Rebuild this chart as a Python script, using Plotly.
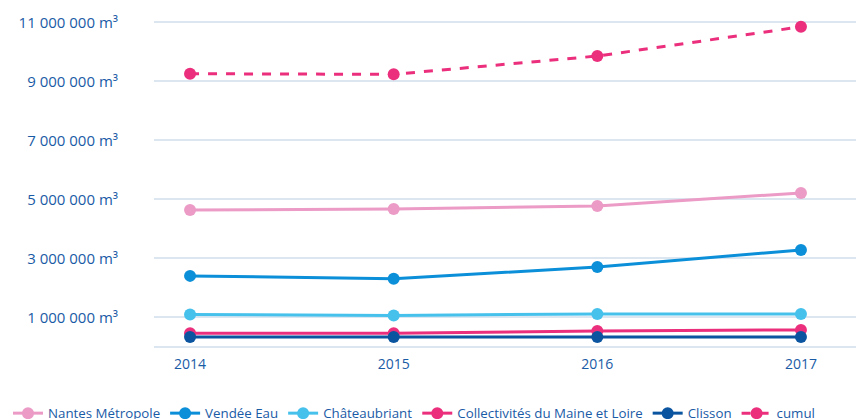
import plotly.graph_objects as go

years = [2014, 2015, 2016, 2017]
nantes = [4640000, 4680000, 4780000, 5220000]
vendee = [2410000, 2310000, 2710000, 3290000]
chateaubriant = [1100000, 1070000, 1120000, 1120000]
maine_loire = [470000, 470000, 540000, 580000]
clisson = [340000, 340000, 340000, 340000]
cumul = [9260000, 9240000, 9860000, 10850000]

tick_vals = [1000000, 3000000, 5000000, 7000000, 9000000, 11000000]
tick_text = ["1 000 000 m³", "3 000 000 m³", "5 000 000 m³", "7 000 000 m³", "9 000 000 m³", "11 000 000 m³"]

series = [
    ("Nantes Métropole", nantes, "#eb9bc6", "solid"),
    ("Vendée Eau", vendee, "#0b8fd8", "solid"),
    ("Châteaubriant", chateaubriant, "#45c1ec", "solid"),
    ("Collectivités du Maine et Loire", maine_loire, "#eb2f7d", "solid"),
    ("Clisson", clisson, "#0b55a0", "solid"),
    ("cumul", cumul, "#eb2f7d", "dash"),
]

text_color = "#1a5ba6"
font_family = "'Open Sans', Lato, sans-serif"

W, H = 856, 411          # page body has an 8px margin
L, R, T, B = 146, 5, 2, 72
plot_w = W - L - R
plot_h = H - T - B

fig = go.Figure()
for name, vals, color, dash in series:
    fig.add_trace(go.Scatter(
        x=years, y=vals, name=name, mode="lines+markers",
        line=dict(color=color, width=3, dash=dash),
        marker=dict(color=color, size=12),
    ))

fig.update_layout(
    width=W, height=H,
    margin=dict(l=L, r=R, t=T, b=B, autoexpand=False),
    paper_bgcolor="white", plot_bgcolor="white",
    font=dict(family=font_family, color=text_color, size=14),
    xaxis=dict(
        range=[2013.823, 2017.285],
        tickvals=years, ticktext=[str(y) for y in years],
        showgrid=False, zeroline=False, showline=False,
        tickfont=dict(size=14, color=text_color),
        ticks="", ticklabelstandoff=7, automargin=False,
    ),
    yaxis=dict(
        range=[0, 11420000],
        tickvals=tick_vals, ticktext=tick_text,
        showgrid=True, gridcolor="#dce6f0", gridwidth=1.5,
        zeroline=True, zerolinecolor="#dce6f0", zerolinewidth=1.5,
        tickfont=dict(size=15, color=text_color),
        ticks="", ticklabelstandoff=35, automargin=False,
    ),
    legend=dict(
        orientation="h", xref="paper", yref="paper",
        x=-L / plot_w, xanchor="left", y=-51 / plot_h, yanchor="top",
        font=dict(size=13.3, color=text_color),
        itemwidth=30, tracegroupgap=0,
    ),
    showlegend=True,
)

fig.write_html("out.html")
